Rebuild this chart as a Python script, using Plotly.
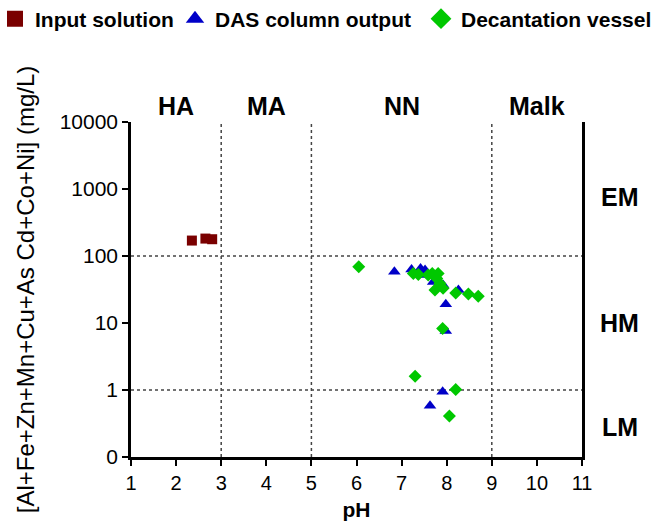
import plotly.graph_objects as go

# Data
input_ph = [2.35, 2.65, 2.80]
input_val = [170, 182, 178]

das_ph = [6.84, 7.22, 7.42, 7.52, 7.46, 7.70, 7.92, 8.26, 7.98, 7.98, 7.91, 7.63]
das_val = [58, 63, 65, 62, 52, 41, 37, 31, 19, 7.6, 0.94, 0.58]

dec_ph = [6.05, 7.26, 7.37, 7.59, 7.68, 7.81, 7.78, 7.85, 7.74, 7.92, 8.20, 8.48, 8.70, 7.91, 7.30, 8.20, 8.06]
dec_val = [69, 55, 53, 52, 55, 55, 46, 39, 31, 33, 28, 27, 25, 8.3, 1.6, 1.02, 0.41]

y_tickvals = [0.1, 1, 10, 100, 1000, 10000]
y_ticktext = ["0", "1", "10", "100", "1000", "10000"]
x_ticks = list(range(1, 12))

grid_x = [3, 5, 9]
grid_y = [100, 1]

zone_top = [("HA", 2), ("MA", 4), ("NN", 7), ("Malk", 10)]
# right-side zone labels, positions given in log10 units (annotation convention on log axes)
zone_right = [("EM", 2.88), ("HM", 1.0), ("LM", -0.55)]

FONT = "Liberation Sans, Arial, sans-serif"

series = [
    ("Input solution", input_ph, input_val, "square", 10, "#7a0000"),
    ("DAS column output", das_ph, das_val, "triangle-up", 11, "#0000c8"),
    ("Decantation vessel", dec_ph, dec_val, "diamond", 10, "#00c800"),
]
legend_ids = ["legend", "legend2", "legend3"]
legend_text_px = [36, 216, 462]  # where each legend text starts

fig = go.Figure()
for name, xs, ys, sym, sz, col in series:
    fig.add_trace(go.Scatter(x=xs, y=ys, mode="markers", name=name, showlegend=False,
                             marker=dict(symbol=sym, size=sz, color=col)))
for (name, xs, ys, sym, sz, col), lid in zip(series, legend_ids):
    fig.add_trace(go.Scatter(x=[None], y=[None], mode="markers", name=name, legend=lid,
                             marker=dict(symbol=sym, size=18, color=col)))

for gx in grid_x:
    fig.add_shape(type="line", x0=gx, x1=gx, y0=0, y1=1, xref="x", yref="paper",
                  line=dict(color="#444", width=1.5, dash="dot"), layer="below")
for gy in grid_y:
    fig.add_shape(type="line", x0=0, x1=1, y0=gy, y1=gy, xref="paper", yref="y",
                  line=dict(color="#444", width=1.5, dash="dot"), layer="below")

for txt, xv in zone_top:
    fig.add_annotation(x=xv, y=1.0955, xref="x", yref="paper", text="<b>%s</b>" % txt,
                       showarrow=False, font=dict(size=25, color="black", family=FONT))
for txt, yv in zone_right:
    fig.add_annotation(x=1.084, y=yv, xref="paper", yref="y", text="<b>%s</b>" % txt,
                       showarrow=False, xanchor="center",
                       font=dict(size=25, color="black", family=FONT))

L, R, T, B = 131, 82, 122, 65
W, H = 664, 522
pw = W - L - R

legend_layout = {}
for lid, tx in zip(legend_ids, legend_text_px):
    legend_layout[lid] = dict(
        orientation="h", xref="paper", yref="container",
        x=(tx - 41 - L) / pw, y=1 - 19 / H, xanchor="left", yanchor="middle",
        font=dict(size=21, family=FONT, weight="bold"),
        itemsizing="trace", bgcolor="rgba(0,0,0,0)")

fig.update_layout(
    width=W, height=H,
    margin=dict(l=L, r=R, t=T, b=B, autoexpand=False),
    plot_bgcolor="white", paper_bgcolor="white",
    font=dict(family=FONT, size=20, color="black"),
    showlegend=True,
    **legend_layout,
    xaxis=dict(range=[1, 11], tickvals=x_ticks, showgrid=False, zeroline=False,
               showline=True, linecolor="black", linewidth=2.5, mirror=False,
               ticks="outside", ticklen=6, tickwidth=2, tickcolor="black",
               tickfont=dict(size=20), automargin=False,
               title=dict(text="<b>pH</b>", font=dict(size=21), standoff=10)),
    yaxis=dict(type="log", range=[-1, 4], tickvals=y_tickvals, ticktext=y_ticktext,
               showgrid=False, zeroline=False, showline=True, linecolor="black",
               linewidth=2.5, mirror=True, ticks="outside", ticklen=6, tickwidth=2,
               tickcolor="black", tickfont=dict(size=21), automargin=False,
               title=dict(text="[Al+Fe+Zn+Mn+Cu+As Cd+Co+Ni] (mg/L)",
                          font=dict(size=24), standoff=19)),
)

fig.write_html("out.html", config={"displayModeBar": False},
               post_script="document.body.style.margin='0';")
